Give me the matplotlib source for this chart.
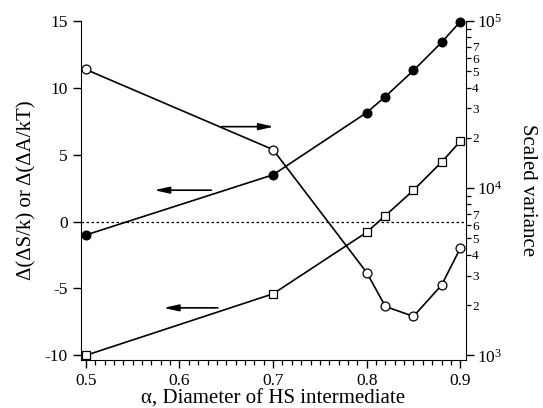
import numpy as np
import matplotlib
matplotlib.use("Agg")
import matplotlib.pyplot as plt
from matplotlib.ticker import LogLocator, FuncFormatter, MultipleLocator

plt.rcParams['font.family'] = ['Liberation Serif', 'DejaVu Serif']
plt.rcParams['mathtext.fontset'] = 'custom'
plt.rcParams['mathtext.rm'] = 'Liberation Serif'
plt.rcParams['mathtext.it'] = 'Liberation Serif:italic'
plt.rcParams['axes.unicode_minus'] = False

# diameter of hard-sphere intermediate
alpha = [0.5, 0.7, 0.8, 0.82, 0.85, 0.88, 0.9]

# left axis series
d_entropy = [-1.0, 3.5, 8.15, 9.35, 11.3, 13.4, 14.95]    # filled circles
d_free = [-10.0, -5.4, -0.8, 0.45, 2.35, 4.45, 6.0]       # open squares

# right axis (log) series
scaled_var = [51300, 17000, 3130, 1960, 1710, 2630, 4370]  # open circles

# arrows: (x_start, x_end, y) in left-axis data coords
arrows = [(0.645, 0.701, 7.1), (0.634, 0.573, 2.35), (0.641, 0.583, -6.45)]

fig = plt.figure(figsize=(5.43, 4.08), dpi=100)
ax = fig.add_axes([0.149, 0.1176, 0.709, 0.8309])
ax2 = ax.twinx()

lw = 1.2
ax.axhline(0, color='k', lw=0.9, dashes=(2, 2), zorder=1)
ax.plot(alpha, d_entropy, 'k-', lw=lw, marker='o', ms=6.2, mfc='k', mec='k',
        zorder=3, clip_on=False)
ax.plot(alpha, d_free, 'k-', lw=lw, marker='s', ms=6.3, mfc='white', mec='k', mew=0.9,
        zorder=3, clip_on=False)
ax2.plot(alpha, scaled_var, 'k-', lw=lw, marker='o', ms=6.4, mfc='white', mec='k', mew=0.9,
         zorder=3, clip_on=False)

for x0, x1, y in arrows:
    ax.annotate('', xy=(x1, y), xytext=(x0, y),
                arrowprops=dict(arrowstyle='-|>,head_length=0.9,head_width=0.2',
                                color='k', lw=1.2, shrinkA=0, shrinkB=0))

ax.set_xlim(0.4947, 0.906)
ax.set_ylim(-10.35, 15)
ax2.set_yscale('log')
ax2.set_ylim(10 ** (3 - 0.35 / 12.5), 1e5)

for a in (ax, ax2):
    a.spines['top'].set_visible(False)
ax.spines['right'].set_visible(False)
ax2.spines['left'].set_visible(False)
ax2.spines['bottom'].set_visible(False)

ax.set_xticks([0.5, 0.6, 0.7, 0.8, 0.9])
ax.xaxis.set_minor_locator(MultipleLocator(0.01))
ax.set_yticks([-10, -5, 0, 5, 10, 15])
ax.tick_params(axis='both', which='major', direction='out', length=6, width=1, labelsize=12.5)
ax.tick_params(axis='x', which='minor', direction='out', length=3.5, width=0.9)
ax.tick_params(axis='y', which='minor', left=False)

ax2.yaxis.set_major_locator(LogLocator(base=10))
ax2.yaxis.set_minor_locator(LogLocator(base=10, subs=range(2, 10)))
ax2.yaxis.set_major_formatter(FuncFormatter(lambda v, p: r'$10^{%d}$' % round(np.log10(v))))


def minor_fmt(v, p):
    m = int(round(v / 10 ** np.floor(np.log10(v) + 1e-9)))
    return str(m) if 2 <= m <= 7 else ''


ax2.yaxis.set_minor_formatter(FuncFormatter(minor_fmt))
ax2.tick_params(axis='y', which='major', direction='out', length=6, width=1, labelsize=12.5, pad=2)
ax2.tick_params(axis='y', which='minor', direction='out', length=3.5, width=0.9, labelsize=9.5, pad=1)

ax.set_xlabel('α, Diameter of HS intermediate', fontsize=15, labelpad=0)
ax.set_ylabel('Δ(ΔS/k) or Δ(ΔA/kT)', fontsize=15, labelpad=6)
ax2.set_ylabel('Scaled variance', fontsize=15, rotation=270, labelpad=25)

fig.savefig('out.png', dpi=100)
